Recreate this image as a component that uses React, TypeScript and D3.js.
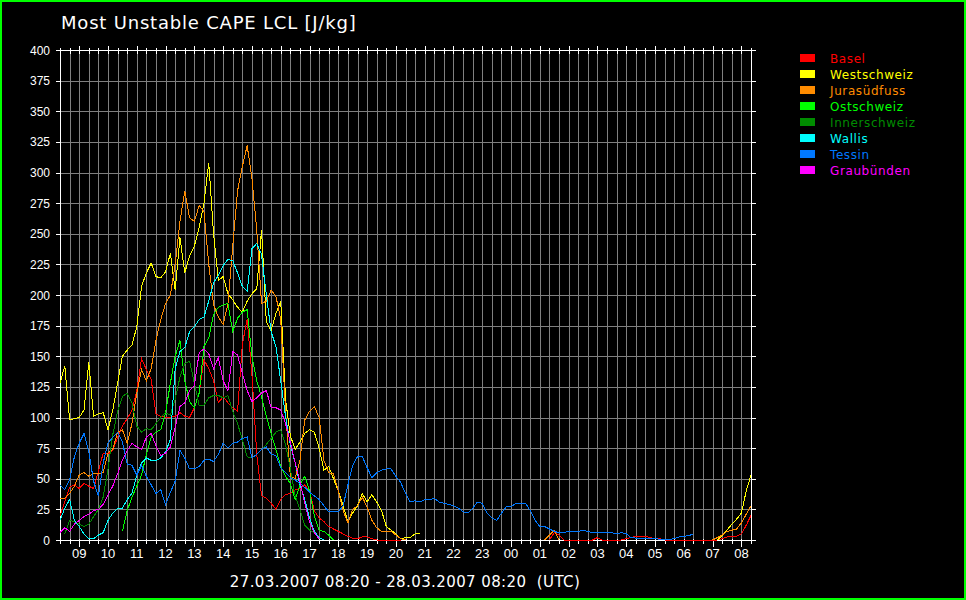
import React from 'react';
import * as d3 from 'd3';

const _ = null;

// 10-minute samples from 27.03.2007 08:20 UTC to 28.03.2007 08:20 UTC
const START = new Date(Date.UTC(2007, 2, 27, 8, 20));
const END = new Date(Date.UTC(2007, 2, 28, 8, 20));
const STEP_MIN = 10;

const regions = ['Basel', 'Westschweiz', 'Jurasüdfuss', 'Ostschweiz', 'Innerschweiz', 'Wallis', 'Tessin', 'Graubünden'];
const colors = ['#ff0000', '#ffff00', '#ff8c00', '#00ff00', '#008c00', '#00ffff', '#0078ff', '#ff00ff'];

const yTickValues = [0, 25, 50, 75, 100, 125, 150, 175, 200, 225, 250, 275, 300, 325, 350, 375, 400];

const basel = [
  20, 31, 43, 45, 42, 46, 44, 42, 56, 71,
  70, 73, 84, 93, 99, 106, 122, 148, 139, 131,
  103, 101, 100, 100, 101, 104, 101, 100, 108, 120,
  147, 140, 130, 112, 117, 112, 108, 105, 160, 180,
  135, 70, 36, 34, 30, 25, 33, 37, 38, 41,
  42, 45, 40, 24, 18, 15, 11, 9, 7, 5,
  3, 1.5, 1, 2.5, 2.5, 1, 0, 0, 0, 0,
  0, 0, _, _, _, _, _, _, _, _,
  _, _, _, _, _, _, _, _, _, _,
  _, _, _, _, _, _, _, _, _, _,
  _, _, 0, 6, 4, 0, 0, 0, 0, 0,
  0, 0, 2, 0, 0, 0, 0, 0, 1, 2,
  3, 3, 3, 2, 1, 1, 0, 0, 0, 0,
  0, 0, 0, 0, 0, 0, 0, 0, 1, 2.5,
  2.5, 3, 5, 12, 20,
];

const westschweiz = [
  128, 142, 98, 99, 100, 106, 145, 101, 103, 104,
  90, 106, 128, 150, 155, 159, 174, 207, 218, 226,
  215, 214, 219, 234, 204, 247, 218, 232, 240, 255,
  275, 308, 250, 212, 215, 201, 196, 190, 186, 195,
  201, 205, 253, 178, 171, 185, 195, 115, 85, 74,
  80, 87, 90, 88, 75, 57, 60, 50, 40, 28,
  15, 22, 28, 38, 31, 37, 31, 24, 11, 8,
  5, 1, 2, 2, 5, 5, _, _, _, _,
  _, _, _, _, _, _, _, _, _, _,
  _, _, _, _, _, _, _, _, _, _,
  _, _, _, _, _, _, _, _, _, _,
  _, _, _, _, _, _, _, _, _, _,
  _, _, _, _, _, _, _, _, _, _,
  _, _, _, _, _, _, _, 0, 4, 8,
  13, 17, 22, 40, 53,
];

const jurasuedfuss = [
  34, 34, 38, 44, 53, 55, 52, 54, 54, 55,
  71, 74, 88, 90, 79, 95, 120, 139, 130, 140,
  163, 180, 193, 200, 225, 260, 285, 263, 260, 273,
  268, 225, 192, 182, 176, 193, 240, 285, 305, 322,
  295, 253, 193, 195, 204, 199, 180, 105, 52, 50,
  65, 98, 105, 109, 100, 65, 55, 54, 40, 24,
  14, 25, 28, 35, 27, 16, 10, 7, 7, 7,
  4, 1, 0, _, _, _, _, _, _, _,
  _, _, _, _, _, _, _, _, _, _,
  _, _, _, _, _, _, _, _, _, _,
  _, 0, 4, 8, 0, _, _, _, _, _,
  _, _, _, _, _, _, _, _, _, _,
  _, _, _, _, _, _, _, _, _, _,
  _, _, _, _, _, _, 0, 2, 4, 7,
  8, 9, 14, 21, 28,
];

const ostschweiz = [
  _, _, _, _, _, _, _, _, _, _,
  _, _, _, 7, 24, 35, 44, 53, 70, 84,
  88, 90, 104, 128, 150, 163, 130, 113, 108, 120,
  158, 165, 184, 190, 192, 193, 170, 181, 186, 188,
  150, 130, 117, 101, 87, 74, 60, 52, 46, 33,
  45, 52, 40, 20, 8, 7, 4, 0,
];

const innerschweiz = [
  _, 5, 16, 15, 13, 11, 13, 19, 25, 35,
  58, 86, 105, 117, 120, 112, 93, 88, 91, 90,
  95, 100, 104, 102, 115, 133, 144, 146, 128, 110,
  110, 116, 118, 118, 116, 118, 105, 95, 82, 68,
  67, 70, 74, 78, 83, 88, 90, 78, 58, 36,
  25, 12, 8, 6, 2, 0,
];

const wallis = [
  16, 26, 33, 16, 11, 5, 1, 1, 4, 6,
  16, 22, 26, 26, 33, 38, 53, 63, 67, 65,
  65, 67, 72, 82, 140, 154, 157, 170, 174, 180,
  182, 195, 210, 216, 224, 229, 228, 218, 207, 203,
  238, 242, 233, 200, 170, 158, 130, 101, 78, 63,
  45, 33, 18, 7, 2, 0,
];

const tessin = [
  45, 41, 49, 68, 79, 87, 72, 48, 36, 63,
  79, 84, 88, 80, 62, 61, 53, 61, 52, 45,
  38, 41, 29, 39, 48, 73, 67, 58, 58, 60,
  65, 66, 64, 70, 79, 75, 79, 80, 83, 84,
  67, 70, 74, 76, 70, 69, 59, 55, 51, 49,
  46, 43, 39, 36, 33, 28, 23, 23, 23, 28,
  45, 61, 68, 68, 59, 51, 55, 57, 58, 58,
  52, 47, 38, 31, 32, 31, 33, 33, 34, 31,
  30, 29, 28, 26, 23, 22, 26, 31, 30, 22,
  18, 16, 22, 27, 27, 30, 30, 30, 24, 16,
  11, 11, 9, 7, 6, 6, 7, 7, 7, 8,
  7, 6, 6, 6, 6, 6, 5, 6, 5, 2,
  1.5, 1.5, 1.5, 1.5, 1.5, 0.5, 0.5, 0.5, 1, 2.5,
  3, 3.5, 5,
];

const graubuenden = [
  6, 10, 7, 13, 16, 19, 21, 24, 25, 29,
  37, 44, 54, 65, 73, 79, 76, 74, 84, 87,
  77, 69, 71, 76, 92, 109, 112, 122, 126, 153,
  156, 152, 140, 149, 130, 122, 154, 151, 136, 122,
  113, 116, 120, 122, 108, 108, 106, 95, 80, 63,
  48, 30, 15, 6, 1,
];

const seriesValues = [basel, westschweiz, jurasuedfuss, ostschweiz, innerschweiz, wallis, tessin, graubuenden];

const W = 966;
const H = 600;
const plot = { left: 60, right: 751, top: 50, bottom: 540 };
const px = (v: number) => Math.round(v) + 0.5;

export default function App() {
  const x = d3.scaleUtc().domain([START, END]).range([plot.left, plot.right]);
  const y = d3.scaleLinear().domain([0, 400]).range([plot.bottom, plot.top]);

  const timeAt = (i: number) => d3.utcMinute.offset(START, i * STEP_MIN);
  const gridTimes = d3.utcMinute.every(20)!.range(START, d3.utcMinute.offset(END, 1));
  const hours = d3.utcHour.range(START, END);
  const fmtHour = d3.utcFormat('%H');

  const line = d3.line<number | null>()
    .defined(d => d != null)
    .x((_d, i) => x(timeAt(i)))
    .y(d => y(d as number));

  const top = px(plot.top);
  const bottom = px(plot.bottom);
  const left = px(plot.left);
  const right = px(plot.right);

  return (
    <div style={{ position: 'fixed', left: 0, top: 0, width: W, height: H }}>
      <svg width={W} height={H} style={{ display: 'block' }}>
        <rect x={1} y={1} width={W - 2} height={H - 2} fill="#000" stroke="#00ff00" strokeWidth={2} />

        <text x={61} y={29} fill="#fff" fontFamily="DejaVu Sans" fontSize={18} letterSpacing={0.8}>
          Most Unstable CAPE LCL [J/kg]
        </text>

        {/* grid */}
        <g stroke="#808080" strokeWidth={1} shapeRendering="crispEdges">
          {gridTimes.map((t, i) => (
            <line key={'gx' + i} x1={px(x(t))} x2={px(x(t))} y1={top} y2={bottom} />
          ))}
          {yTickValues.map(v => (
            <line key={'gy' + v} x1={left} x2={right} y1={px(y(v))} y2={px(y(v))} />
          ))}
        </g>

        {/* axes frame and ticks */}
        <g stroke="#fff" strokeWidth={1} shapeRendering="crispEdges">
          <line x1={left} x2={right} y1={top} y2={top} />
          <line x1={left} x2={right} y1={bottom} y2={bottom} />
          <line x1={left} x2={left} y1={top} y2={bottom} />
          <line x1={right} x2={right} y1={top} y2={bottom} />
          {gridTimes.map((t, i) => {
            const major = t.getUTCMinutes() === 0;
            const xx = px(x(t));
            return (
              <g key={'t' + i}>
                <line x1={xx} x2={xx} y1={top - (major ? 5 : 3)} y2={top + 3} />
                <line x1={xx} x2={xx} y1={bottom - 2} y2={bottom + (major ? 6 : 3)} />
              </g>
            );
          })}
          {yTickValues.map(v => (
            <g key={'yt' + v}>
              <line x1={left - 5} x2={left} y1={px(y(v))} y2={px(y(v))} />
              <line x1={right} x2={right + 4} y1={px(y(v))} y2={px(y(v))} />
            </g>
          ))}
        </g>

        {/* tick labels */}
        <g fill="#fff" fontFamily="Liberation Sans, Arial, sans-serif" fontSize={12}>
          {yTickValues.map(v => (
            <text key={'yl' + v} x={50} y={y(v) + 4.5} textAnchor="end">{v}</text>
          ))}
        </g>
        <g fill="#fff" fontFamily="Liberation Sans Narrow, Liberation Sans, sans-serif" fontSize={13}>
          {hours.map((h, i) => (
            <text key={'xl' + i} x={x(h)} y={558} textAnchor="middle">{fmtHour(h)}</text>
          ))}
        </g>

        {/* data */}
        <g fill="none" strokeWidth={1} shapeRendering="crispEdges">
          {seriesValues.map((vals, k) => (
            <path key={regions[k]} d={line(vals) || ''} stroke={colors[k]} />
          ))}
        </g>

        {/* legend */}
        <g fontFamily="DejaVu Sans" fontSize={12} letterSpacing={0.6}>
          {regions.map((name, k) => (
            <g key={name} transform={`translate(800, ${54 + k * 16})`}>
              <rect x={0} y={0} width={15} height={8} fill={colors[k]} />
              <text x={30} y={8.5} fill={colors[k]}>{name}</text>
            </g>
          ))}
        </g>

        <text x={405} y={587} fill="#fff" fontFamily="DejaVu Sans" fontSize={15} letterSpacing={0.4}
          textAnchor="middle" style={{ whiteSpace: 'pre' }}>
          {'27.03.2007 08:20 - 28.03.2007 08:20  (UTC)'}
        </text>
      </svg>
    </div>
  );
}
